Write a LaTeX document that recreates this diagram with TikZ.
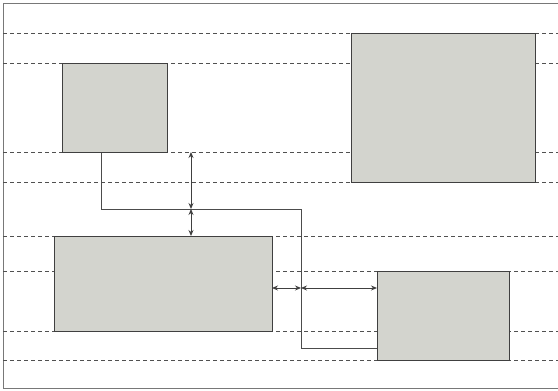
\documentclass[tikz,border=0pt]{standalone}
\usetikzlibrary{arrows.meta}
\definecolor{boxfill}{RGB}{211,212,206}
\definecolor{guide}{RGB}{80,80,80}
\definecolor{framecol}{RGB}{120,120,120}
\begin{document}
\begin{tikzpicture}[x=1pt,y=-1pt,
  block/.style={draw=black!75,fill=boxfill,line width=0.9pt,inner sep=0pt,anchor=north west},
  guideline/.style={draw=guide,dashed,dash pattern=on 4pt off 3pt,line width=0.9pt},
  link/.style={draw=black!70,line width=0.9pt},
  gap/.style={draw=black!75,line width=0.9pt,{Stealth[length=6pt,width=5pt]}-{Stealth[length=6pt,width=5pt]}}]
\useasboundingbox (0,0) rectangle (558,391);
% outer frame (open to the right)
\draw[framecol,line width=1pt] (558,3) -- (3,3) -- (3,388) -- (558,388);
% horizontal alignment guides, drawn below the blocks
\foreach \y in {33,63,152,182,236,271,331,360}
  \draw[guideline] (3,\y) -- (558,\y);
% blocks
\node[block,minimum width=105pt,minimum height=89pt] (a) at (62,63) {};
\node[block,minimum width=184pt,minimum height=149pt] (b) at (351,33) {};
\node[block,minimum width=218pt,minimum height=95pt] (c) at (54,236) {};
\node[block,minimum width=132pt,minimum height=89pt] (d) at (377,271) {};
% routed connection from the upper block to the lower right block
\coordinate (k1) at (101,209);
\coordinate (k2) at (301,209);
\coordinate (k3) at (301,348);
\draw[link] (a.south -| k1) -- (k1) -- (k2) -- (k3) -- (k3 -| d.west);
% spacing dimensions
\coordinate (v0) at (191,152);
\coordinate (v1) at (191,209);
\coordinate (v2) at (191,236);
\draw[gap] (v0) -- (v1);
\draw[gap] (v1) -- (v2);
\coordinate (h0) at (272,288);
\coordinate (h1) at (301,288);
\coordinate (h2) at (377,288);
\draw[gap] (h0) -- (h1);
\draw[gap] (h1) -- (h2);
\end{tikzpicture}
\end{document}
